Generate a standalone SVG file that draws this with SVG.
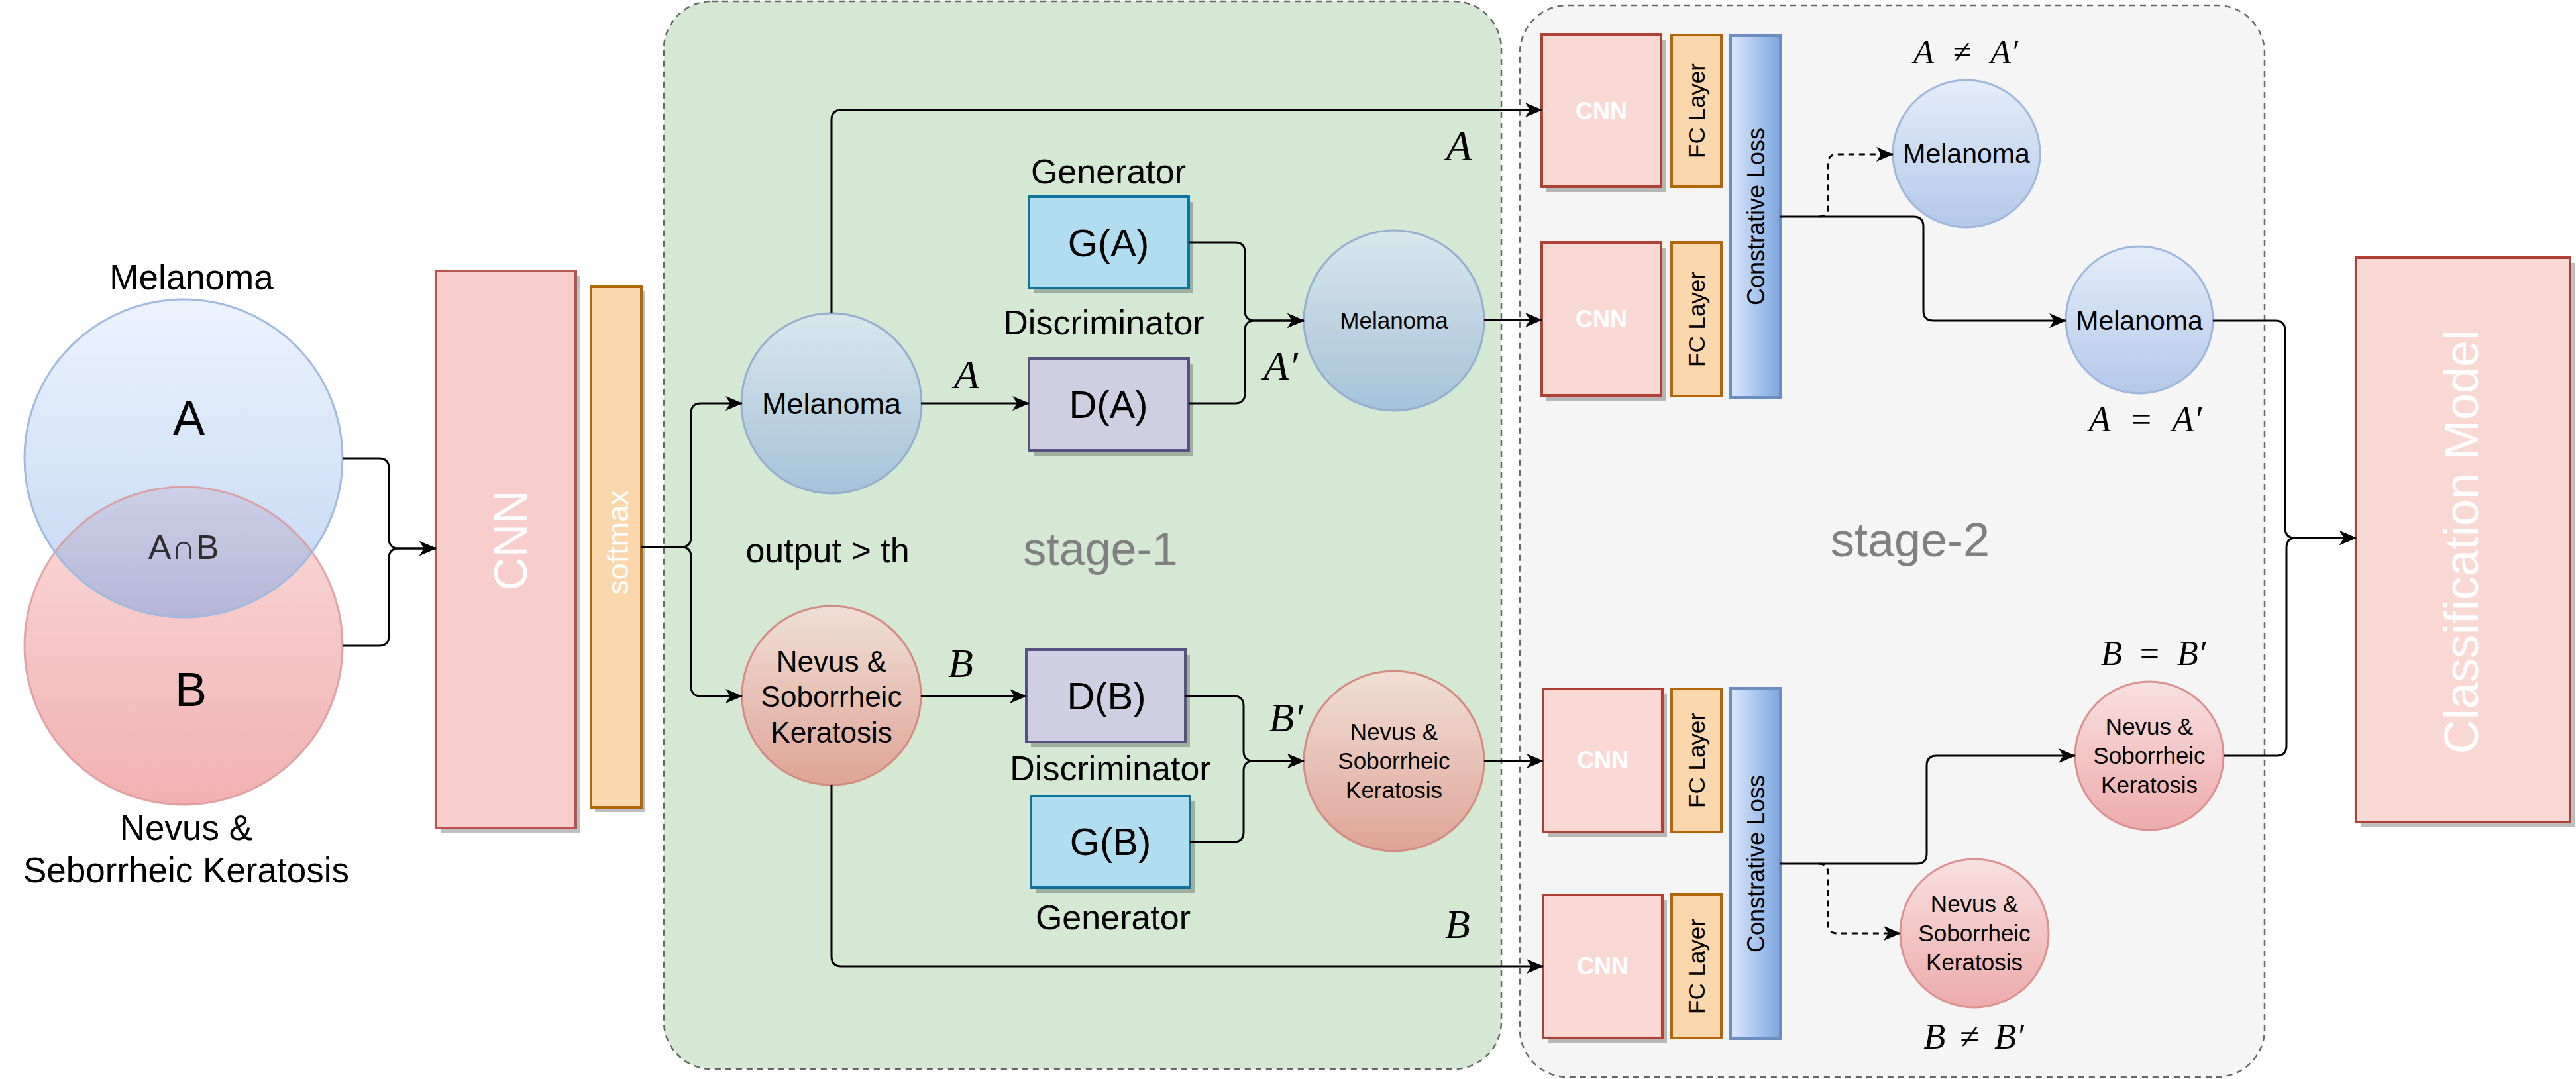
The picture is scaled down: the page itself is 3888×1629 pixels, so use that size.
<svg xmlns="http://www.w3.org/2000/svg" width="3888" height="1629" viewBox="0 0 3888 1629">
<defs>
<linearGradient id="gVennA" x1="0" y1="0" x2="0" y2="1"><stop offset="0" stop-color="#ecf3fd"/><stop offset="1" stop-color="#c2d7f3"/></linearGradient>
<linearGradient id="gVennB" x1="0" y1="0" x2="0" y2="1"><stop offset="0" stop-color="#fadada"/><stop offset="1" stop-color="#f2b1b1"/></linearGradient>
<linearGradient id="gLens" x1="0" y1="0" x2="0" y2="1"><stop offset="0" stop-color="#cdd0e8"/><stop offset="1" stop-color="#b5b5d6"/></linearGradient>
<linearGradient id="gMel1" x1="0" y1="0" x2="0" y2="1"><stop offset="0" stop-color="#d8e7ed"/><stop offset="1" stop-color="#a6c2d9"/></linearGradient>
<linearGradient id="gNev1" x1="0" y1="0" x2="0" y2="1"><stop offset="0" stop-color="#f0dfd5"/><stop offset="1" stop-color="#dfa497"/></linearGradient>
<linearGradient id="gMel2" x1="0" y1="0" x2="0" y2="1"><stop offset="0" stop-color="#e5edfb"/><stop offset="1" stop-color="#b3c9e9"/></linearGradient>
<linearGradient id="gNev2" x1="0" y1="0" x2="0" y2="1"><stop offset="0" stop-color="#f9e0e0"/><stop offset="1" stop-color="#edabab"/></linearGradient>
<linearGradient id="gCL" x1="0" y1="0" x2="1" y2="0"><stop offset="0" stop-color="#dae8fc"/><stop offset="1" stop-color="#7ea6e0"/></linearGradient>
<marker id="arr" markerUnits="userSpaceOnUse" viewBox="0 0 26 22" markerWidth="26" markerHeight="22" refX="25" refY="11" orient="auto">
<path d="M0,0 L26,11 L0,22 L7,11 Z" fill="#000"/>
</marker>
</defs>
<style>
.t{font-family:"Liberation Sans",Arial,sans-serif;fill:#000;text-anchor:middle}
.w{fill:#fff}
.m{font-family:"Liberation Serif","Times New Roman",serif;font-style:italic;fill:#000;text-anchor:middle}
.up{font-style:normal}
.ln{fill:none;stroke:#000;stroke-width:3}
.dash{stroke-dasharray:9 7}
.sh{fill:#000;fill-opacity:0.25}
.stage{stroke:#666;stroke-width:2.5;stroke-dasharray:9 7}
.redbox{fill:#f8cecc;stroke:#b85450;stroke-width:4}
.redbox2{fill:#fad9d5;stroke:#ae4132;stroke-width:4}
.orbox{fill:#fad7ac;stroke:#b46504;stroke-width:4}
.gen{fill:#b1ddf0;stroke:#10739e;stroke-width:4}
.dis{fill:#d0cee2;stroke:#56517e;stroke-width:4}
.cl{fill:url(#gCL);stroke:#6c8ebf;stroke-width:4}
.mel1{fill:url(#gMel1);stroke:#94aed0;stroke-width:3}
.nev1{fill:url(#gNev1);stroke:#d58a80;stroke-width:3}
.mel2{fill:url(#gMel2);stroke:#9db7dc;stroke-width:3}
.nev2{fill:url(#gNev2);stroke:#dc8f8f;stroke-width:3}
</style>

<g id="stage1">
<rect x="1002" y="2" width="1264" height="1612" rx="72" ry="72" fill="#d5e8d4" class="stage"/>
<text class="t" x="1661" y="853" font-size="70" style="fill:#808080">stage-1</text>
</g>
<g id="stage2">
<rect x="2294" y="8" width="1124" height="1618" rx="72" ry="72" fill="#f5f5f5" class="stage"/>
<text class="t" x="2883" y="840" font-size="72" style="fill:#808080">stage-2</text>
</g>

<g id="venn">
<circle cx="277" cy="975" r="240" fill="url(#gVennB)"/>
<circle cx="277" cy="692" r="240" fill="url(#gVennA)"/>
<path d="M83 833.5 A240 240 0 0 1 471 833.5 A240 240 0 0 1 83 833.5 Z" fill="url(#gLens)"/>
<circle cx="277" cy="975" r="240" fill="none" stroke="#d99494" stroke-width="3" stroke-opacity="0.8"/>
<circle cx="277" cy="692" r="240" fill="none" stroke="#9fb9e0" stroke-width="3"/>
<text class="t" x="289" y="437" font-size="53">Melanoma</text>
<text class="t" x="285" y="656" font-size="72">A</text>
<text class="t" x="277" y="844" font-size="52" style="fill:#2e2e2e">A∩B</text>
<text class="t" x="288" y="1066" font-size="72">B</text>
<text class="t" x="281" y="1268" font-size="53">Nevus &amp;</text>
<text class="t" x="281" y="1332" font-size="53">Seborrheic Keratosis</text>
</g>

<g id="cnn-main">
<rect class="sh" x="665" y="417" width="211" height="841"/>
<rect class="redbox" x="658" y="409" width="211" height="841"/>
<text class="t w" font-size="70" transform="translate(770,816) rotate(-90)" x="0" y="25">CNN</text>
</g>
<g id="softmax">
<rect class="sh" x="898" y="440" width="76" height="786"/>
<rect class="orbox" x="892" y="433" width="76" height="786"/>
<text class="t w" font-size="45" transform="translate(932,819) rotate(-90)" x="0" y="16">softmax</text>
</g>

<g id="output-th"><text class="t" x="1249" y="849" font-size="52">output &gt; th</text></g>

<g id="melanoma-s1">
<circle class="mel1" cx="1255" cy="609" r="136"/>
<text class="t" x="1255" y="625" font-size="45">Melanoma</text>
</g>
<g id="nevus-s1">
<circle class="nev1" cx="1255" cy="1050" r="135"/>
<text class="t" x="1255" y="1014" font-size="44">Nevus &amp;</text>
<text class="t" x="1255" y="1067" font-size="44">Soborrheic</text>
<text class="t" x="1255" y="1121" font-size="44">Keratosis</text>
</g>

<g id="gen-a">
<text class="t" x="1673" y="277" font-size="52">Generator</text>
<rect class="sh" x="1560" y="305" width="241" height="138"/>
<rect class="gen" x="1553" y="297" width="241" height="138"/>
<text class="t" x="1673" y="387" font-size="58">G(A)</text>
</g>
<g id="dis-a">
<text class="t" x="1666" y="505" font-size="52">Discriminator</text>
<rect class="sh" x="1560" y="549" width="241" height="139"/>
<rect class="dis" x="1553" y="541" width="241" height="139"/>
<text class="t" x="1673" y="631" font-size="58">D(A)</text>
</g>
<g id="dis-b">
<rect class="sh" x="1556" y="989" width="240" height="139"/>
<rect class="dis" x="1549" y="981" width="240" height="139"/>
<text class="t" x="1670" y="1071" font-size="58">D(B)</text>
<text class="t" x="1676" y="1178" font-size="52">Discriminator</text>
</g>
<g id="gen-b">
<rect class="sh" x="1563" y="1210" width="240" height="138"/>
<rect class="gen" x="1556" y="1202" width="240" height="138"/>
<text class="t" x="1676" y="1291" font-size="58">G(B)</text>
<text class="t" x="1680" y="1403" font-size="52">Generator</text>
</g>

<g id="melanoma-s1-out">
<circle class="mel1" cx="2104" cy="484" r="136"/>
<text class="t" x="2104" y="496" font-size="35">Melanoma</text>
</g>
<g id="nevus-s1-out">
<circle class="nev1" cx="2104" cy="1149" r="136"/>
<text class="t" x="2104" y="1117" font-size="35">Nevus &amp;</text>
<text class="t" x="2104" y="1161" font-size="35">Soborrheic</text>
<text class="t" x="2104" y="1205" font-size="35">Keratosis</text>
</g>

<g id="cnn-s2-1">
<rect class="sh" x="2334" y="60" width="180" height="230"/>
<rect class="redbox2" x="2327" y="52" width="180" height="230"/>
<text class="t w" x="2417" y="180" font-size="36" font-weight="bold">CNN</text>
</g>
<g id="cnn-s2-2">
<rect class="sh" x="2334" y="374" width="180" height="231"/>
<rect class="redbox2" x="2327" y="366" width="180" height="231"/>
<text class="t w" x="2417" y="494" font-size="36" font-weight="bold">CNN</text>
</g>
<g id="cnn-s2-3">
<rect class="sh" x="2336" y="1048" width="180" height="216"/>
<rect class="redbox2" x="2329" y="1040" width="180" height="216"/>
<text class="t w" x="2419" y="1160" font-size="36" font-weight="bold">CNN</text>
</g>
<g id="cnn-s2-4">
<rect class="sh" x="2336" y="1359" width="180" height="216"/>
<rect class="redbox2" x="2329" y="1351" width="180" height="216"/>
<text class="t w" x="2419" y="1471" font-size="36" font-weight="bold">CNN</text>
</g>
<g id="fc-1">
<rect class="orbox" x="2523" y="53" width="75" height="229"/>
<text class="t" font-size="35" transform="translate(2561,167) rotate(-90)" x="0" y="12">FC Layer</text>
</g>
<g id="fc-2">
<rect class="orbox" x="2523" y="366" width="75" height="232"/>
<text class="t" font-size="35" transform="translate(2561,482) rotate(-90)" x="0" y="12">FC Layer</text>
</g>
<g id="fc-3">
<rect class="orbox" x="2523" y="1040" width="75" height="216"/>
<text class="t" font-size="35" transform="translate(2561,1148) rotate(-90)" x="0" y="12">FC Layer</text>
</g>
<g id="fc-4">
<rect class="orbox" x="2523" y="1350" width="75" height="217"/>
<text class="t" font-size="35" transform="translate(2561,1459) rotate(-90)" x="0" y="12">FC Layer</text>
</g>
<g id="cl-1">
<rect class="cl" x="2612" y="54" width="75" height="546"/>
<text class="t" font-size="36" transform="translate(2650,327) rotate(-90)" x="0" y="13">Constrative Loss</text>
</g>
<g id="cl-2">
<rect class="cl" x="2612" y="1039" width="75" height="529"/>
<text class="t" font-size="36" transform="translate(2650,1304) rotate(-90)" x="0" y="13">Constrative Loss</text>
</g>

<g id="melanoma-neq">
<circle class="mel2" cx="2968" cy="232" r="111"/>
<text class="t" x="2968" y="246" font-size="41">Melanoma</text>
</g>
<g id="melanoma-eq">
<circle class="mel2" cx="3229" cy="483" r="111"/>
<text class="t" x="3229" y="498" font-size="41">Melanoma</text>
</g>
<g id="nevus-eq">
<circle class="nev2" cx="3244" cy="1141" r="112"/>
<text class="t" x="3244" y="1109" font-size="35">Nevus &amp;</text>
<text class="t" x="3244" y="1153" font-size="35">Soborrheic</text>
<text class="t" x="3244" y="1197" font-size="35">Keratosis</text>
</g>
<g id="nevus-neq">
<circle class="nev2" cx="2980" cy="1409" r="112"/>
<text class="t" x="2980" y="1377" font-size="35">Nevus &amp;</text>
<text class="t" x="2980" y="1421" font-size="35">Soborrheic</text>
<text class="t" x="2980" y="1465" font-size="35">Keratosis</text>
</g>

<g id="classification">
<rect class="sh" x="3563" y="397" width="323" height="852"/>
<rect class="redbox2" x="3556" y="389" width="323" height="852"/>
<text class="t w" font-size="72" transform="translate(3714,818) rotate(-90)" x="0" y="26">Classification Model</text>
</g>

<g id="labels">
<text class="m" x="2202" y="242" font-size="64">A</text>
<text class="m" x="1459" y="586" font-size="62">A</text>
<text class="m" x="1933" y="573" font-size="62">A′</text>
<text class="m" x="1450" y="1022" font-size="62">B</text>
<text class="m" x="1941" y="1104" font-size="62">B′</text>
<text class="m" x="2200" y="1416" font-size="62">B</text>
<text class="m" x="2967" y="95" font-size="50">A<tspan class="up" dx="29">≠</tspan><tspan dx="29">A′</tspan></text>
<text class="m" x="3238" y="651" font-size="54">A<tspan class="up" dx="31">=</tspan><tspan dx="31">A′</tspan></text>
<text class="m" x="3250" y="1004" font-size="52">B<tspan class="up" dx="27">=</tspan><tspan dx="27">B′</tspan></text>
<text class="m" x="2979" y="1583" font-size="54">B<tspan class="up" dx="22">≠</tspan><tspan dx="22">B′</tspan></text>
</g>

<g id="connectors">
<path class="ln" d="M518 692 H572 Q587 692 587 707 V813 Q587 828 602 828 H658" marker-end="url(#arr)"/>
<path class="ln" d="M518 975 H572 Q587 975 587 960 V843 Q587 828 602 828 H658" marker-end="url(#arr)"/>
<path class="ln" d="M968 826 H1028 Q1043 826 1043 811 V624 Q1043 609 1058 609 H1120" marker-end="url(#arr)"/>
<path class="ln" d="M968 826 H1028 Q1043 826 1043 841 V1036 Q1043 1051 1058 1051 H1120" marker-end="url(#arr)"/>
<path class="ln" d="M1390 609 H1553" marker-end="url(#arr)"/>
<path class="ln" d="M1390 1051 H1549" marker-end="url(#arr)"/>
<path class="ln" d="M1794 366 H1864 Q1879 366 1879 381 V469 Q1879 484 1894 484 H1968" marker-end="url(#arr)"/>
<path class="ln" d="M1794 609 H1864 Q1879 609 1879 594 V499 Q1879 484 1894 484 H1968" marker-end="url(#arr)"/>
<path class="ln" d="M1789 1051 H1862 Q1877 1051 1877 1066 V1134 Q1877 1149 1892 1149 H1968" marker-end="url(#arr)"/>
<path class="ln" d="M1796 1271 H1862 Q1877 1271 1877 1256 V1164 Q1877 1149 1892 1149 H1968" marker-end="url(#arr)"/>
<path class="ln" d="M1255 473 V181 Q1255 166 1270 166 H2327" marker-end="url(#arr)"/>
<path class="ln" d="M2240 483 H2327" marker-end="url(#arr)"/>
<path class="ln" d="M2240 1149 H2329" marker-end="url(#arr)"/>
<path class="ln" d="M1255 1185 V1444 Q1255 1459 1270 1459 H2329" marker-end="url(#arr)"/>
<path class="ln" d="M2687 327 H2888 Q2903 327 2903 342 V469 Q2903 484 2918 484 H3118" marker-end="url(#arr)"/>
<path class="ln dash" d="M2745 327 Q2759 327 2759 313 V247 Q2759 233 2773 233 H2857" marker-end="url(#arr)"/>
<path class="ln" d="M2687 1304 H2893 Q2908 1304 2908 1289 V1156 Q2908 1141 2923 1141 H3132" marker-end="url(#arr)"/>
<path class="ln dash" d="M2745 1304 Q2759 1304 2759 1318 V1395 Q2759 1409 2773 1409 H2868" marker-end="url(#arr)"/>
<path class="ln" d="M3340 484 H3434 Q3449 484 3449 499 V797 Q3449 812 3464 812 H3556" marker-end="url(#arr)"/>
<path class="ln" d="M3356 1141 H3436 Q3451 1141 3451 1126 V827 Q3451 812 3466 812 H3556" marker-end="url(#arr)"/>
</g>
</svg>
